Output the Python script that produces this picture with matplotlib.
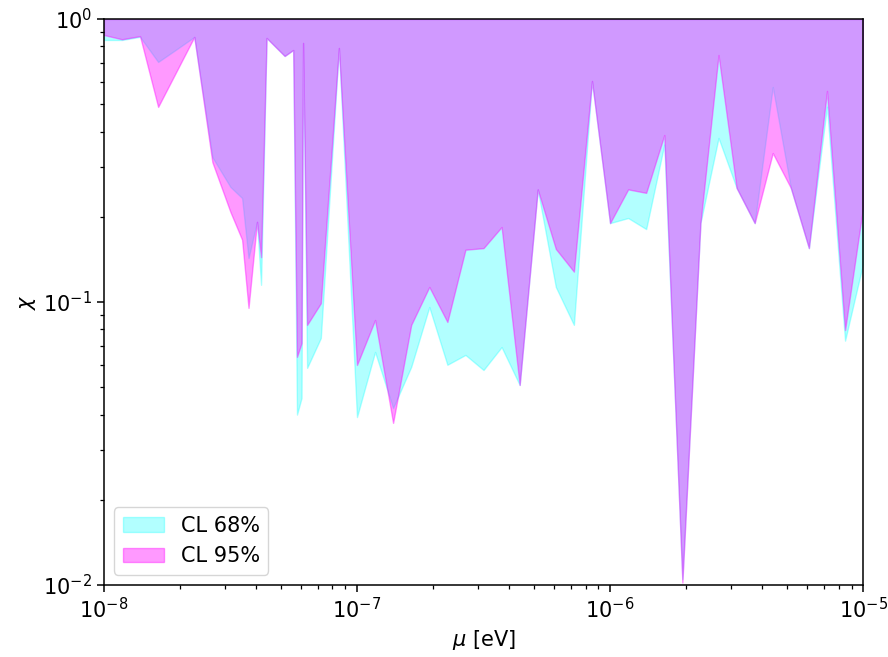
import numpy as np
import matplotlib.pyplot as plt

# mass values mu [eV]
mu = [1.00e-8, 1.179e-8, 1.389e-8, 1.638e-8, 1.931e-8, 2.276e-8, 2.683e-8,
      3.162e-8, 3.516e-8, 3.728e-8, 4.027e-8, 4.178e-8, 4.394e-8, 5.179e-8,
      5.598e-8, 5.794e-8, 6.039e-8, 6.124e-8, 6.353e-8, 7.197e-8, 8.483e-8,
      1.0e-7, 1.179e-7, 1.389e-7, 1.638e-7, 1.931e-7, 2.276e-7, 2.683e-7,
      3.162e-7, 3.728e-7, 4.394e-7, 5.179e-7, 6.105e-7, 7.197e-7, 8.483e-7,
      1.0e-6, 1.179e-6, 1.389e-6, 1.638e-6, 1.931e-6, 2.276e-6, 2.683e-6,
      3.162e-6, 3.728e-6, 4.394e-6, 5.179e-6, 6.105e-6, 7.197e-6, 8.483e-6,
      1.0e-5]

# lower limits on chi
chi_68 = [0.843, 0.843, 0.865, 0.705, 0.78, 0.864, 0.325,
          0.255, 0.233, 0.143, 0.192, 0.115, 0.857, 0.74,
          0.777, 0.040, 0.0458, 0.823, 0.0585, 0.0746, 0.79,
          0.0392, 0.0666, 0.0422, 0.059, 0.096, 0.060, 0.065,
          0.0575, 0.0693, 0.0509, 0.25, 0.113, 0.083, 0.604,
          0.19, 0.198, 0.181, 0.36, 0.0105, 0.19, 0.38,
          0.253, 0.19, 0.575, 0.253, 0.155, 0.49, 0.073,
          0.137]

chi_95 = [0.878, 0.848, 0.87, 0.489, 0.65, 0.864, 0.312,
          0.208, 0.166, 0.0953, 0.192, 0.144, 0.857, 0.74,
          0.777, 0.064, 0.0716, 0.823, 0.083, 0.099, 0.79,
          0.0599, 0.0864, 0.0374, 0.083, 0.113, 0.085, 0.153,
          0.155, 0.184, 0.0509, 0.25, 0.154, 0.128, 0.604,
          0.19, 0.25, 0.243, 0.389, 0.0102, 0.19, 0.746,
          0.253, 0.19, 0.336, 0.253, 0.155, 0.557, 0.0796,
          0.217]

fig = plt.figure(figsize=(8.88, 6.57), dpi=100)
ax = fig.add_axes([0.117, 0.1096, 0.855, 0.8615])

ax.fill_between(mu, chi_68, 1.0, color='cyan', alpha=0.3, label='CL 68%')
ax.fill_between(mu, chi_95, 1.0, color='magenta', alpha=0.4, label='CL 95%')

ax.set_xscale('log')
ax.set_yscale('log')
ax.set_xlim(1e-8, 1e-5)
ax.set_ylim(1e-2, 1)
ax.set_xlabel(r'$\mu$ [eV]', fontsize=15)
ax.set_ylabel(r'$\chi$', fontsize=15)
ax.tick_params(which='major', labelsize=15, length=5, width=1.1)
ax.tick_params(which='minor', length=3, width=0.9)
for s in ax.spines.values():
    s.set_linewidth(1.1)

ax.legend(loc='lower left', fontsize=15)

fig.savefig('out.png', dpi=100)
